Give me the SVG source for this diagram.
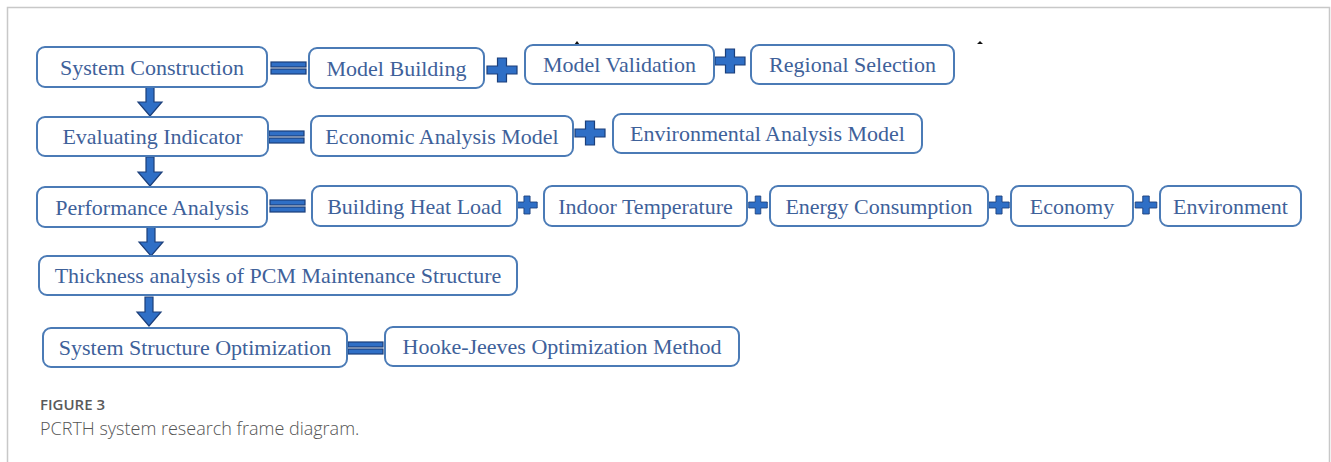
<svg xmlns="http://www.w3.org/2000/svg" width="1331" height="462" viewBox="0 0 1331 462">
<style>
.box{fill:#fff;stroke:#4b7bb6;stroke-width:2}
.t{font-family:"Liberation Serif","Times New Roman",serif;font-size:22px;fill:#3e619a;text-anchor:middle}
.blue{fill:#2f6fc6;stroke:#1c3f7a;stroke-width:1.2}
.cap1{font-family:"Open Sans","Noto Sans",sans-serif;font-size:15px;font-weight:600;fill:#5a5a5a}
.cap2{font-family:"Open Sans","Noto Sans",sans-serif;font-size:18px;font-weight:300;fill:#555}
</style>
<defs>
<path id="arrow" class="blue" d="M-4,0 H4 V15 H12 L0,29 L-12,15 H-4 Z"/>
<g id="eq" class="blue"><rect x="0" y="0" width="35" height="5"/><rect x="0" y="7" width="35" height="5"/></g>
<path id="plus" class="blue" d="M-4.5,-12 H4.5 V-4 H15 V4 H4.5 V12 H-4.5 V4 H-15 V-4 H-4.5 Z"/>
</defs>
<rect width="1331" height="462" fill="#fff"/>
<path d="M7.5,470 V7.5 H1329.5 V470" fill="none" stroke="#c8c8c8" stroke-width="1.5"/>
<path d="M574,45 L577,41 L580,45 Z M977,44 L980,41 L983,44 Z" fill="#111"/>

<g id="connectors">
<use href="#arrow" x="150" y="87"/>
<use href="#arrow" x="150" y="157"/>
<use href="#arrow" x="151" y="227"/>
<use href="#arrow" x="149" y="297"/>
<use href="#eq" x="271" y="62"/>
<use href="#eq" x="269" y="131"/>
<use href="#eq" x="270" y="200"/>
<use href="#eq" x="348" y="342"/>
<use href="#plus" x="502" y="70"/>
<use href="#plus" x="730" y="61"/>
<use href="#plus" x="590" y="133"/>
<use href="#plus" transform="translate(527,205) scale(0.68,0.75)"/>
<use href="#plus" transform="translate(758,205) scale(0.62,0.75)"/>
<use href="#plus" transform="translate(999,205) scale(0.68,0.75)"/>
<use href="#plus" transform="translate(1146,205) scale(0.72,0.75)"/>
</g>

<g id="system-construction"><rect class="box" x="37" y="47" width="230" height="40" rx="8"/><text class="t" x="152" y="75">System Construction</text></g>
<g id="model-building"><rect class="box" x="309" y="48" width="175" height="40" rx="8"/><text class="t" x="396.5" y="76">Model Building</text></g>
<g id="model-validation"><rect class="box" x="525" y="45" width="189" height="39" rx="8"/><text class="t" x="619.5" y="72">Model Validation</text></g>
<g id="regional-selection"><rect class="box" x="751" y="45" width="203" height="39" rx="8"/><text class="t" x="852.5" y="72">Regional Selection</text></g>

<g id="evaluating-indicator"><rect class="box" x="37" y="117" width="231" height="39" rx="8"/><text class="t" x="152.5" y="144">Evaluating Indicator</text></g>
<g id="economic-analysis-model"><rect class="box" x="311" y="116" width="262" height="40" rx="8"/><text class="t" x="442" y="144">Economic Analysis Model</text></g>
<g id="environmental-analysis-model"><rect class="box" x="613" y="114" width="309" height="39" rx="8"/><text class="t" x="767.5" y="141">Environmental Analysis Model</text></g>

<g id="performance-analysis"><rect class="box" x="37" y="187" width="230" height="40" rx="8"/><text class="t" x="152" y="215">Performance Analysis</text></g>
<g id="building-heat-load"><rect class="box" x="312" y="186" width="205" height="40" rx="8"/><text class="t" x="414.5" y="214">Building Heat Load</text></g>
<g id="indoor-temperature"><rect class="box" x="544" y="186" width="203" height="40" rx="8"/><text class="t" x="645.5" y="214">Indoor Temperature</text></g>
<g id="energy-consumption"><rect class="box" x="770" y="186" width="218" height="40" rx="8"/><text class="t" x="879" y="214">Energy Consumption</text></g>
<g id="economy"><rect class="box" x="1011" y="186" width="122" height="40" rx="8"/><text class="t" x="1072" y="214">Economy</text></g>
<g id="environment"><rect class="box" x="1160" y="186" width="141" height="40" rx="8"/><text class="t" x="1230.5" y="214">Environment</text></g>

<g id="thickness-analysis"><rect class="box" x="39" y="256" width="478" height="39" rx="8"/><text class="t" x="278" y="283">Thickness analysis of PCM Maintenance Structure</text></g>

<g id="system-structure-optimization"><rect class="box" x="43" y="328" width="304" height="39" rx="8"/><text class="t" x="195" y="355">System Structure Optimization</text></g>
<g id="hooke-jeeves"><rect class="box" x="385" y="327" width="354" height="39" rx="8"/><text class="t" x="562" y="354">Hooke-Jeeves Optimization Method</text></g>

<text class="cap1" x="40" y="410">FIGURE 3</text>
<text class="cap2" x="40" y="435">PCRTH system research frame diagram.</text>
</svg>
